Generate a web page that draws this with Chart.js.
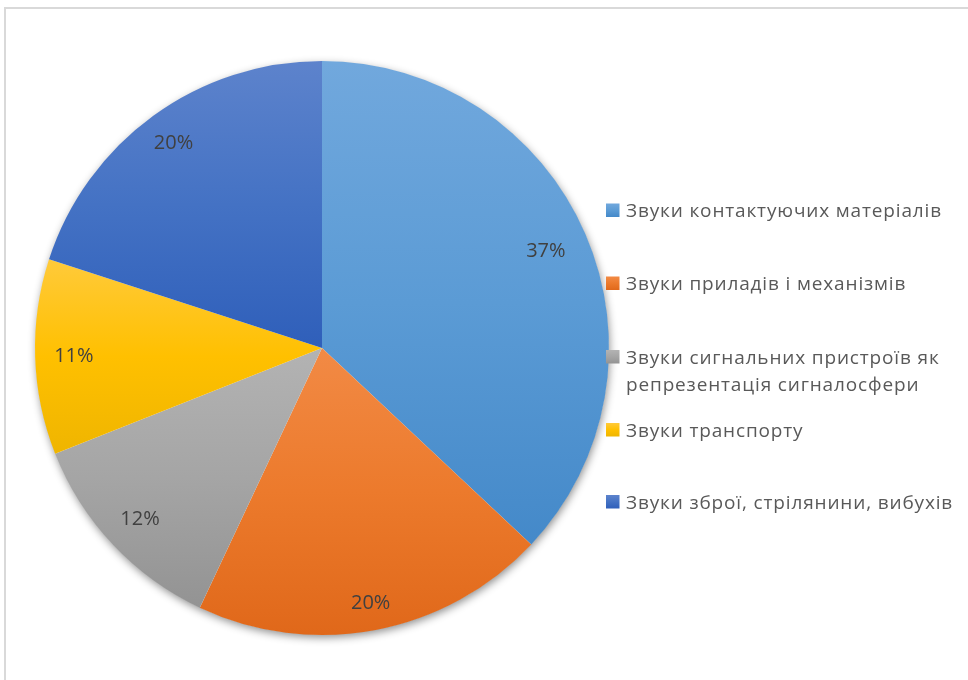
<!DOCTYPE html>
<html>
<head>
<meta charset="utf-8">
<title>Звуки</title>
<script src="https://cdn.jsdelivr.net/npm/chart.js@4.4.0/dist/chart.umd.min.js"></script>
<style>
  html, body { margin: 0; padding: 0; background: #ffffff; }
  #wrap { position: relative; width: 968px; height: 680px; overflow: hidden; }
  #wrap canvas { position: absolute; left: 0; top: 0; }
  #frame { position: absolute; left: 4px; top: 7px; right: 0; bottom: 0;
           border-left: 2px solid #d9d9d9; border-top: 2px solid #d9d9d9; pointer-events: none; }
</style>
</head>
<body>
<div id="wrap">
  <canvas id="chart" width="968" height="680"></canvas>
  <div id="frame"></div>
</div>
<script>
// Categories of sounds and their shares (per cent)
const categories = [
  'Звуки контактуючих матеріалів',
  'Звуки приладів і механізмів',
  'Звуки сигнальних пристроїв як репрезентація сигналосфери',
  'Звуки транспорту',
  'Звуки зброї, стрілянини, вибухів'
];
const shares = [37, 20, 12, 11, 20];

// Gradient stops per slice: top, middle, bottom
const sliceTop    = ['#71a8dd', '#f28a45', '#b3b3b3', '#ffca3a', '#5d83cc'];
const sliceMid    = ['#5b9bd5', '#ec7a2c', '#a5a5a5', '#ffc000', '#4472c4'];
const sliceBottom = ['#4489c9', '#e0681a', '#939393', '#efb500', '#2f5fba'];

// Radial position of each percentage label, as a fraction of the radius
const labelRadius = [0.85, 0.905, 0.87, 0.865, 0.88];

// Legend row baselines (a row may hold two lines of text)
const legendRows = [[217], [290], [363.5, 390.5], [436.5], [508.5]];

const TEXT_FONT = '"Open Sans", "Noto Sans", Lato, sans-serif';

function sliceBounds(chart, i) {
  const area = chart.chartArea;
  const cx = (area.left + area.right) / 2;
  const cy = (area.top + area.bottom) / 2;
  const r = Math.min(area.right - area.left, area.bottom - area.top) / 2;
  const data = chart.data.datasets[0].data;
  const total = data.reduce((a, b) => a + b, 0);
  let before = 0;
  for (let k = 0; k < i; k++) before += data[k];
  const a0 = -Math.PI / 2 + 2 * Math.PI * before / total;
  const a1 = a0 + 2 * Math.PI * data[i] / total;
  let ymin = cy, ymax = cy;
  for (let k = 0; k <= 120; k++) {
    const a = a0 + (a1 - a0) * k / 120;
    const y = cy + r * Math.sin(a);
    ymin = Math.min(ymin, y);
    ymax = Math.max(ymax, y);
  }
  return [ymin, ymax];
}

function makeGradient(ctx2d, i, y0, y1) {
  const g = ctx2d.createLinearGradient(0, y0, 0, y1);
  g.addColorStop(0, sliceTop[i]);
  g.addColorStop(0.5, sliceMid[i]);
  g.addColorStop(1, sliceBottom[i]);
  return g;
}

function sliceFill(context) {
  const chart = context.chart;
  const i = context.dataIndex;
  if (!chart.chartArea || i === undefined) return sliceMid[i || 0];
  const [y0, y1] = sliceBounds(chart, i);
  return makeGradient(chart.ctx, i, y0, y1);
}

// Soft shadow underneath the whole pie
const pieShadow = {
  id: 'pieShadow',
  beforeDatasetsDraw(chart) {
    const arc = chart.getDatasetMeta(0).data[0];
    if (!arc) return;
    const ctx = chart.ctx;
    ctx.save();
    ctx.shadowColor = 'rgba(0,0,0,0.45)';
    ctx.shadowBlur = 9;
    ctx.shadowOffsetX = 1;
    ctx.shadowOffsetY = 3;
    ctx.beginPath();
    ctx.arc(arc.x, arc.y, arc.outerRadius - 0.5, 0, Math.PI * 2);
    ctx.fillStyle = '#ffffff';
    ctx.fill();
    ctx.restore();
  }
};

// Percentage labels inside the slices
const sliceLabels = {
  id: 'sliceLabels',
  afterDatasetsDraw(chart) {
    const ctx = chart.ctx;
    const data = chart.data.datasets[0].data;
    ctx.save();
    ctx.font = '20px ' + TEXT_FONT;
    ctx.fillStyle = '#404040';
    ctx.textAlign = 'center';
    ctx.textBaseline = 'middle';
    chart.getDatasetMeta(0).data.forEach((arc, i) => {
      const mid = (arc.startAngle + arc.endAngle) / 2;
      const d = arc.outerRadius * labelRadius[i];
      ctx.fillText(data[i] + '%', arc.x + Math.cos(mid) * d, arc.y + Math.sin(mid) * d);
    });
    ctx.restore();
  }
};

// Legend to the right of the pie
const sideLegend = {
  id: 'sideLegend',
  afterDraw(chart) {
    const ctx = chart.ctx;
    const boxX = 606, box = 13.5, textX = 626, maxW = 350;
    ctx.save();
    ctx.font = '19px ' + TEXT_FONT;
    if ('letterSpacing' in ctx) ctx.letterSpacing = '0.85px';
    ctx.textAlign = 'left';
    ctx.textBaseline = 'alphabetic';
    chart.data.labels.forEach((label, i) => {
      const rows = legendRows[i];
      // wrap words into the available width
      const words = label.split(' ');
      const lines = [];
      let cur = '';
      words.forEach(w => {
        const test = cur ? cur + ' ' + w : w;
        if (ctx.measureText(test).width > maxW && cur) { lines.push(cur); cur = w; }
        else cur = test;
      });
      if (cur) lines.push(cur);
      const base = rows[0];
      ctx.fillStyle = makeGradient(ctx, i, base - box, base);
      ctx.fillRect(boxX, base - box, box, box);
      ctx.fillStyle = '#595959';
      lines.forEach((ln, k) => {
        const y = rows[k] !== undefined ? rows[k] : rows[rows.length - 1] + 27 * (k - rows.length + 1);
        ctx.fillText(ln, textX, y);
      });
    });
    ctx.restore();
  }
};

new Chart(document.getElementById('chart'), {
  type: 'pie',
  data: {
    labels: categories,
    datasets: [{
      data: shares,
      backgroundColor: sliceFill,
      borderWidth: 0
    }]
  },
  options: {
    responsive: false,
    animation: false,
    layout: { padding: { left: 35, right: 359, top: 61, bottom: 45 } },
    plugins: {
      legend: { display: false },
      tooltip: { enabled: false }
    }
  },
  plugins: [pieShadow, sliceLabels, sideLegend]
});
</script>
</body>
</html>
